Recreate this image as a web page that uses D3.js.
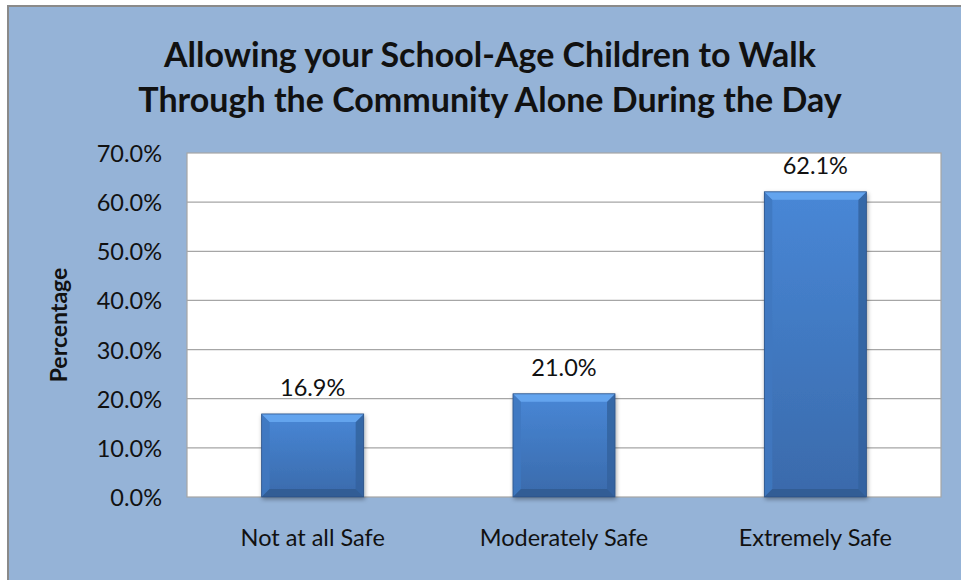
<!DOCTYPE html>
<html>
<head>
<meta charset="utf-8">
<script src="https://cdn.jsdelivr.net/npm/d3@7"></script>
<style>
  html, body { margin: 0; padding: 0; background: #ffffff; }
  svg { display: block; }
  text { font-family: Lato, "Open Sans", sans-serif; fill: #111; }
</style>
</head>
<body>
<div id="chart"></div>
<script>
// data
const categories = ['Not at all Safe', 'Moderately Safe', 'Extremely Safe'];
const values = [16.9, 21.0, 62.1];
const yTicks = [0, 10, 20, 30, 40, 50, 60, 70];
const titleLines = ['Allowing your School-Age Children to Walk', 'Through the Community Alone During the Day'];
const yTitle = 'Percentage';

const W = 961, H = 580;
const margins = { left: 187, right: 20, top: 153, bottom: 83 };
const innerW = W - margins.left - margins.right;
const innerH = H - margins.top - margins.bottom;

const svg = d3.select('#chart').append('svg')
	.attr('width', W)
	.attr('height', H);

const defs = svg.append('defs');

const grad = defs.append('linearGradient')
	.attr('id', 'barFill')
	.attr('x1', 0).attr('y1', 0).attr('x2', 0).attr('y2', 1);
grad.append('stop').attr('offset', '0%').attr('stop-color', '#4887d6');
grad.append('stop').attr('offset', '100%').attr('stop-color', '#3a6aab');

const shadow = defs.append('filter')
	.attr('id', 'shadow')
	.attr('x', '-10%').attr('y', '-10%').attr('width', '130%').attr('height', '130%');
shadow.append('feDropShadow')
	.attr('dx', 1).attr('dy', 2).attr('stdDeviation', 2)
	.attr('flood-color', '#000').attr('flood-opacity', 0.35);

// chart area background + outer border
svg.append('rect')
	.attr('x', 8).attr('y', 6)
	.attr('width', W).attr('height', H)
	.attr('fill', '#95b3d7')
	.attr('stroke', '#8a8a8a')
	.attr('stroke-width', 2);

const content = svg.append('g')
	.attr('transform', 'translate(' + margins.left + ',' + margins.top + ')');

const x = d3.scaleBand()
	.domain(categories)
	.range([0, innerW])
	.paddingInner(0.594)
	.paddingOuter(0.297);

const y = d3.scaleLinear()
	.domain([0, 70])
	.range([innerH, 0]);

// plot area
content.append('rect')
	.attr('width', innerW)
	.attr('height', innerH)
	.attr('fill', '#ffffff')
	.attr('stroke', '#a6a6a6')
	.attr('stroke-width', 1.2);

// gridlines
content.selectAll('.grid').data(yTicks.slice(1, -1))
	.enter().append('line')
	.attr('class', 'grid')
	.attr('x1', 0).attr('x2', innerW)
	.attr('y1', d => y(d)).attr('y2', d => y(d))
	.attr('stroke', '#a6a6a6')
	.attr('stroke-width', 1.2);

// y axis labels
const yAxis = d3.axisLeft(y)
	.tickValues(yTicks)
	.tickSize(0)
	.tickPadding(25)
	.tickFormat(d => d.toFixed(1) + '%');
const yG = content.append('g').call(yAxis);
yG.select('.domain').remove();
yG.selectAll('text')
	.attr('font-size', 23.5)
	.attr('dy', '0.36em')
	.style('font-family', 'Lato, sans-serif')
	.attr('fill', '#1a1a1a');

// x axis labels
const xAxis = d3.axisBottom(x).tickSize(0).tickPadding(32);
const xG = content.append('g')
	.attr('transform', 'translate(0,' + innerH + ')')
	.call(xAxis);
xG.select('.domain').remove();
xG.selectAll('text')
	.attr('font-size', 23.5)
	.style('font-family', 'Lato, sans-serif')
	.attr('fill', '#1a1a1a');

// bars with bevel
const bevel = 8;
const bars = content.selectAll('.bar').data(values)
	.enter().append('g')
	.attr('class', 'bar')
	.attr('filter', 'url(#shadow)');

bars.append('rect')
	.attr('x', (d, i) => x(categories[i]))
	.attr('y', d => y(d))
	.attr('width', x.bandwidth())
	.attr('height', d => y(0) - y(d))
	.attr('fill', 'url(#barFill)');

function bevelPath(d, i, side) {
	const x0 = x(categories[i]), x1 = x0 + x.bandwidth();
	const y0 = y(d), y1 = y(0);
	const b = Math.min(bevel, (y1 - y0) / 2);
	if (side === 'top') return [[x0, y0], [x1, y0], [x1 - b, y0 + b], [x0 + b, y0 + b]];
	if (side === 'bottom') return [[x0, y1], [x1, y1], [x1 - b, y1 - b], [x0 + b, y1 - b]];
	if (side === 'left') return [[x0, y0], [x0 + b, y0 + b], [x0 + b, y1 - b], [x0, y1]];
	return [[x1, y0], [x1 - b, y0 + b], [x1 - b, y1 - b], [x1, y1]];
}

const bevelColors = { top: '#6aa9f2', bottom: '#2f5a90', left: '#3f78c0', right: '#34639f' };
['left', 'right', 'top', 'bottom'].forEach(function (side) {
	bars.append('path')
		.attr('d', (d, i) => d3.line()(bevelPath(d, i, side)) + 'Z')
		.attr('fill', bevelColors[side])
		.attr('opacity', 0.85);
});

bars.append('rect')
	.attr('x', (d, i) => x(categories[i]))
	.attr('y', d => y(d))
	.attr('width', x.bandwidth())
	.attr('height', d => y(0) - y(d))
	.attr('fill', 'none')
	.attr('stroke', '#2c5286')
	.attr('stroke-width', 0.8);

// value labels
content.selectAll('.val').data(values)
	.enter().append('text')
	.attr('class', 'val')
	.attr('x', (d, i) => x(categories[i]) + x.bandwidth() / 2)
	.attr('y', d => y(d) - 18)
	.attr('text-anchor', 'middle')
	.attr('font-size', 23.5)
	.attr('fill', '#1a1a1a')
	.text(d => d.toFixed(1) + '%');

// title
svg.append('text')
	.attr('text-anchor', 'middle')
	.attr('font-size', 34)
	.attr('font-weight', 'bold')
	.selectAll('tspan').data(titleLines)
	.enter().append('tspan')
	.attr('x', 490)
	.attr('y', (d, i) => 67 + i * 45)
	.text(d => d);

// y title
svg.append('text')
	.attr('transform', 'translate(67,325) rotate(-90)')
	.attr('text-anchor', 'middle')
	.attr('font-size', 23)
	.attr('font-weight', 'bold')
	.text(yTitle);
</script>
</body>
</html>
